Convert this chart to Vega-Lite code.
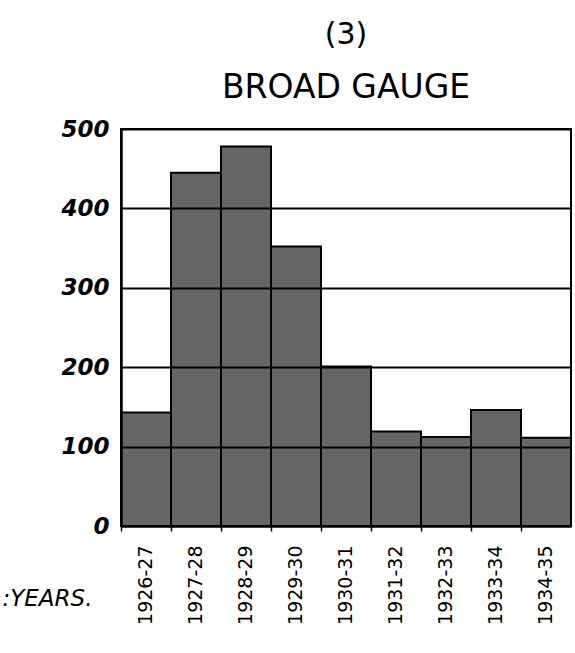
{
  "$schema": "https://vega.github.io/schema/vega-lite/v6.json",
  "autosize": {"type": "none"},
  "padding": {"left": 121, "top": 129, "right": 4, "bottom": 127},
  "width": 450,
  "height": 397,
  "background": "white",
  "title": {
    "text": "(3)",
    "subtitle": "BROAD GAUGE",
    "fontSize": 30,
    "subtitleFontSize": 33,
    "font": "DejaVu Sans",
    "subtitleFont": "DejaVu Sans",
    "fontWeight": "normal",
    "subtitleFontWeight": "normal",
    "color": "black",
    "subtitleColor": "black",
    "subtitlePadding": 22,
    "offset": 13,
    "anchor": "middle"
  },
  "data": {
    "values": [
      {"year": "1926-27", "value": 143},
      {"year": "1927-28", "value": 445},
      {"year": "1928-29", "value": 478},
      {"year": "1929-30", "value": 352},
      {"year": "1930-31", "value": 201},
      {"year": "1931-32", "value": 119},
      {"year": "1932-33", "value": 112},
      {"year": "1933-34", "value": 146},
      {"year": "1934-35", "value": 111}
    ]
  },
  "mark": {"type": "bar", "fill": "#666666", "stroke": "black", "strokeWidth": 2},
  "encoding": {
    "x": {
      "field": "year",
      "type": "nominal",
      "sort": null,
      "scale": {"paddingInner": 0, "paddingOuter": 0},
      "axis": {
        "title": ":YEARS.",
        "titleFont": "DejaVu Sans",
        "titleFontSize": 23,
        "titleFontStyle": "italic",
        "titleFontWeight": "normal",
        "titleColor": "black",
        "titleAngle": 0,
        "titleAlign": "left",
        "titleBaseline": "alphabetic",
        "titleX": -119,
        "titleY": 79,
        "labelAngle": -90,
        "labelFont": "DejaVu Sans",
        "labelFontSize": 19,
        "labelColor": "black",
        "labelPadding": 14,
        "labelAlign": "right",
        "labelBaseline": "middle",
        "domainColor": "black",
        "domainWidth": 2,
        "ticks": true,
        "bandPosition": 0,
        "tickColor": "black",
        "tickSize": 5,
        "tickWidth": 1.5
      }
    },
    "y": {
      "field": "value",
      "type": "quantitative",
      "scale": {"domain": [0, 500], "nice": false},
      "axis": {
        "title": null,
        "values": [0, 100, 200, 300, 400, 500],
        "labelFont": "DejaVu Sans",
        "labelFontSize": 23,
        "labelFontStyle": "italic",
        "labelFontWeight": "bold",
        "labelColor": "black",
        "labelPadding": 12,
        "ticks": false,
        "domainColor": "black",
        "domainWidth": 2.5,
        "grid": true,
        "gridColor": "black",
        "gridWidth": 2,
        "gridOpacity": 1,
        "zindex": 1
      }
    }
  },
  "config": {
    "view": {"stroke": "black", "strokeWidth": 2}
  }
}
